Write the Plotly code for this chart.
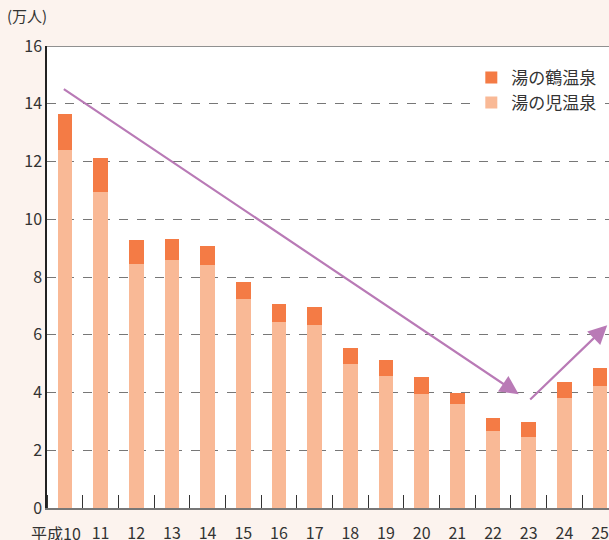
import plotly.graph_objects as go

years = ["10", "11", "12", "13", "14", "15", "16", "17", "18", "19", "20", "21", "22", "23", "24", "25"]
era_label = "平成"
yunoko = [12.4, 10.95, 8.45, 8.6, 8.4, 7.25, 6.45, 6.35, 4.98, 4.58, 3.95, 3.6, 2.68, 2.47, 3.82, 4.23]
yunotsuru = [1.25, 1.17, 0.83, 0.72, 0.67, 0.58, 0.62, 0.62, 0.55, 0.56, 0.57, 0.40, 0.44, 0.51, 0.53, 0.62]
y_ticks = [0, 2, 4, 6, 8, 10, 12, 14, 16]

# trend arrows (data coords: category index, value)
arrow_down = dict(x0=-0.07, y0=14.54, x1=12.72, y1=3.94)
arrow_up = dict(x0=13.0, y0=3.71, x1=15.2, y1=6.33)

FONT = "Noto Sans CJK JP"
C_DARK = "#F47B45"
C_LIGHT = "#F9B996"
C_ARROW = "#B97AB6"
BG = "#FCF3EE"

xs = list(range(len(years)))
boundaries = [i - 0.5 for i in xs]
ticktext = [""] + years[1:]

fig = go.Figure()
fig.add_trace(go.Bar(x=xs, y=yunoko, name="湯の児温泉",
                     marker=dict(color=C_LIGHT, line=dict(width=0)), width=0.41))
fig.add_trace(go.Bar(x=xs, y=yunotsuru, name="湯の鶴温泉",
                     marker=dict(color=C_DARK, line=dict(width=0)), width=0.41))

for a in (arrow_down, arrow_up):
    fig.add_annotation(x=a["x1"], y=a["y1"], ax=a["x0"], ay=a["y0"],
                       xref="x", yref="y", axref="x", ayref="y",
                       showarrow=True, arrowhead=2, arrowsize=1.7,
                       arrowwidth=2.2, arrowcolor=C_ARROW, text="")

fig.add_annotation(text="(万人)", xref="paper", yref="paper", x=-0.075, y=1.038,
                   xanchor="left", yanchor="bottom", showarrow=False,
                   font=dict(family=FONT, size=15, color="#333"))

# first category label with era prefix
fig.add_annotation(text=era_label + years[0], xref="x", yref="paper", x=xs[0] + 0.5, y=0,
                   xanchor="right", yanchor="top", yshift=-11, showarrow=False,
                   font=dict(family=FONT, size=16, color="#333"))

fig.add_shape(type="line", xref="paper", yref="y", x0=0, x1=1, y0=16, y1=16,
              line=dict(color="#222", width=1.2))

fig.update_layout(
    width=609, height=540,
    margin=dict(l=47, r=0, t=46, b=32),
    paper_bgcolor=BG, plot_bgcolor="white",
    barmode="stack", bargap=0.5,
    font=dict(family=FONT, size=16, color="#333"),
    showlegend=True,
    legend=dict(x=0.755, y=0.97, xanchor="left", yanchor="top",
                bgcolor="white", traceorder="reversed",
                font=dict(family=FONT, size=17, color="#333"),
                itemwidth=30, tracegroupgap=2),
    xaxis=dict(tickmode="array", tickvals=xs, ticktext=ticktext,
               range=[-0.5, 15.25], showgrid=False, showline=True,
               linecolor="#777", linewidth=2, ticks="",
               minor=dict(tickmode="array", tickvals=boundaries, ticks="inside",
                          ticklen=13, tickcolor="#333", tickwidth=1, showgrid=False),
               tickangle=0, automargin=False, ticklabeloverflow="allow",
               ticklabelstandoff=10,
               tickfont=dict(family=FONT, size=16, color="#333"), zeroline=False),
    yaxis=dict(range=[0, 16], tickvals=y_ticks, showgrid=True, gridcolor="#777",
               griddash="dash", gridwidth=1.2, showline=True, linecolor="#222",
               linewidth=1.5, ticks="", zeroline=False, automargin=False,
               tickfont=dict(family=FONT, size=16, color="#333")),
)

fig.write_html("out.html", config={"displayModeBar": False},
               post_script="document.body.style.margin='0';document.body.style.overflow='hidden';")
